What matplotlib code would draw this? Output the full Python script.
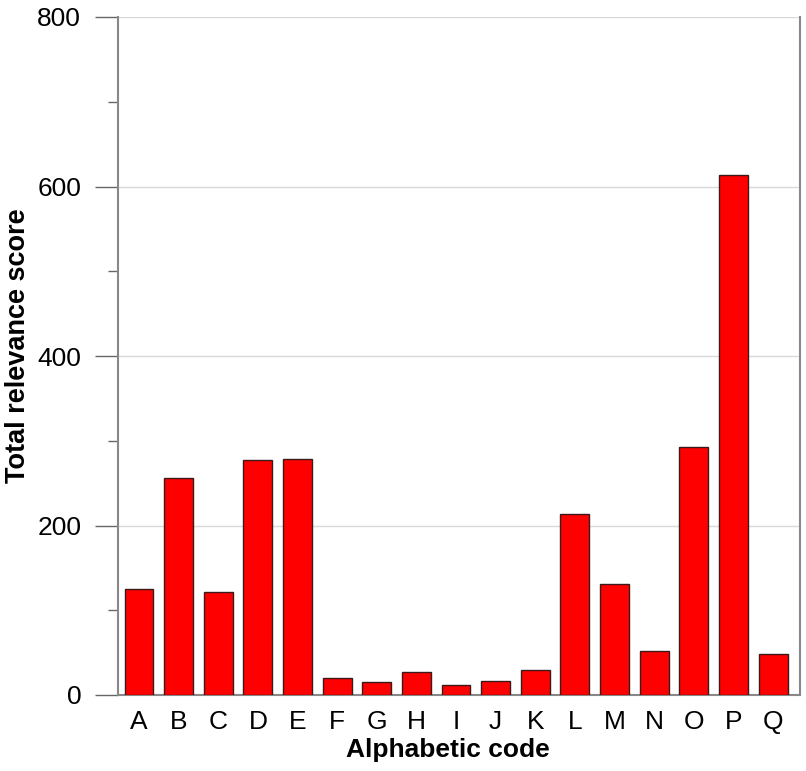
import numpy as np
import matplotlib
matplotlib.use('Agg')
import matplotlib.pyplot as plt
from matplotlib.ticker import MultipleLocator

codes  = ['A', 'B', 'C', 'D', 'E', 'F', 'G', 'H', 'I', 'J', 'K', 'L', 'M', 'N', 'O', 'P', 'Q']
scores = [125, 256, 122, 277, 279, 20, 15, 27, 12, 17, 30, 213, 131, 52, 293, 613, 48]

y_ticks = [0, 200, 400, 600, 800]

font = ['Liberation Sans', 'DejaVu Sans']

fig = plt.figure(figsize=(8.06, 7.71), dpi=100)
ax = fig.add_axes([118 / 806, 76 / 771, 682 / 806, 678 / 771])

x = np.arange(len(codes))
ax.bar(x, scores, width=0.73, color='#ff0000', edgecolor='#3a1a1a', linewidth=1.0, zorder=3)

ax.set_xlim(-0.53, len(codes) - 0.32)
ax.set_ylim(0, 800)
ax.set_yticks(y_ticks)
ax.yaxis.set_minor_locator(MultipleLocator(100))
ax.grid(axis='y', color='#d9d9d9', linewidth=1.0, zorder=0)

ax.set_xticks(x)
ax.set_xticklabels(codes, family=font, fontsize=19)
for lab in ax.get_yticklabels():
    lab.set_family(font)
    lab.set_fontsize(19)

ax.tick_params(axis='y', which='major', direction='out', length=16.5, width=1,
               color='#666666', pad=10)
ax.tick_params(axis='y', which='minor', direction='out', length=7.5, width=1,
               color='#666666')
ax.tick_params(axis='x', length=0, pad=11)

for side in ['left', 'right', 'bottom']:
    ax.spines[side].set_color('#888888')
    ax.spines[side].set_linewidth(1.5)
ax.spines['top'].set_visible(False)

ax.set_xlabel('Alphabetic code', family=font, fontweight='bold', fontsize=19)
ax.set_ylabel('Total relevance score', family=font, fontweight='bold', fontsize=19.5)
ax.xaxis.set_label_coords(0.484, -0.064)
ax.yaxis.set_label_coords(-0.128, 0.515)

fig.savefig('out.png', dpi=100)
